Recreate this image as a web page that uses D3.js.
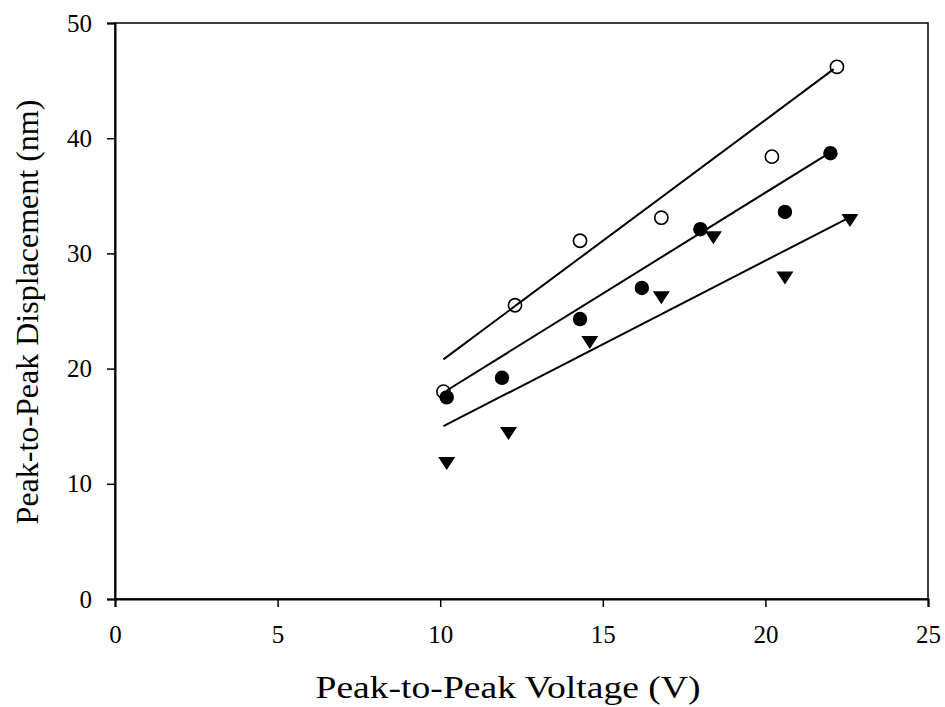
<!DOCTYPE html>
<html lang="en">
<head>
<meta charset="UTF-8">
<title>displacement vs voltage</title>
<script src="https://d3js.org/d3.v7.min.js"></script>
<style>
  body { margin: 0; background: #fff; }
  text { font-family: "Liberation Serif", "Times New Roman", serif; fill: #000; }
</style>
</head>
<body>
<svg width="945" height="707"></svg>
<script>
// data
var xTicks = [0, 5, 10, 15, 20, 25];
var yTicks = [0, 10, 20, 30, 40, 50];

// open circles
var openX = [10.1, 12.3, 14.3, 16.8, 20.2, 22.2];
var openY = [18.0, 25.5, 31.1, 33.1, 38.4, 46.2];
// filled circles
var fillX = [10.2, 11.9, 14.3, 16.2, 18.0, 20.6, 22.0];
var fillY = [17.5, 19.2, 24.3, 27.0, 32.1, 33.6, 38.7];
// triangles
var triX = [10.2, 12.1, 14.6, 16.8, 18.4, 20.6, 22.6];
var triY = [11.8, 14.4, 22.3, 26.2, 31.4, 27.9, 32.9];

// fitted lines (end points)
var fitOpen = [[10.1, 20.8], [22.1, 46.0]];
var fitFill = [[10.2, 18.1], [21.9, 38.6]];
var fitTri = [[10.1, 15.0], [22.5, 33.0]];

var margin = {top: 23, right: 17, bottom: 108, left: 115};
var svg = d3.select('svg');
var width = +svg.attr('width') - margin.left - margin.right;
var height = +svg.attr('height') - margin.top - margin.bottom;

var g = svg.append('g').attr('transform', 'translate(' + margin.left + ',' + margin.top + ')');

var x = d3.scaleLinear().domain([0, 25]).range([0, width]);
var y = d3.scaleLinear().domain([0, 50]).range([height, 0]);

// frame
g.append('rect')
    .attr('width', width)
    .attr('height', height)
    .attr('fill', 'none')
    .attr('stroke', '#000')
    .attr('stroke-width', 1.5);

var xAxis = g.append('g')
    .attr('transform', 'translate(0,' + height + ')')
    .call(d3.axisBottom(x).tickValues(xTicks).tickSize(8).tickPadding(18).tickFormat(d3.format('d')));
var yAxis = g.append('g')
    .call(d3.axisLeft(y).tickValues(yTicks).tickSize(8).tickPadding(15).tickFormat(d3.format('d')));

[xAxis, yAxis].forEach(function(a) {
    a.select('.domain').attr('stroke-width', 2);
    a.selectAll('.tick line').attr('stroke-width', 1.5);
    a.selectAll('.tick text').attr('font-size', 25).attr('font-family', '"Liberation Serif", serif');
});

// fit lines
var line = d3.line().x(d => x(d[0])).y(d => y(d[1]));
g.selectAll('path.fit')
    .data([fitOpen, fitFill, fitTri])
    .join('path')
    .attr('class', 'fit')
    .attr('d', line)
    .attr('fill', 'none')
    .attr('stroke', '#000')
    .attr('stroke-width', 2);

// markers
g.append('g').selectAll('path')
    .data(triX.map((v, i) => [v, triY[i]]))
    .join('path')
    .attr('transform', d => 'translate(' + x(d[0]) + ',' + y(d[1]) + ')')
    .attr('d', 'M-8.5,-6L8.5,-6L0,7Z')
    .attr('fill', '#000');

g.append('g').selectAll('circle')
    .data(fillX.map((v, i) => [v, fillY[i]]))
    .join('circle')
    .attr('cx', d => x(d[0]))
    .attr('cy', d => y(d[1]))
    .attr('r', 7.2)
    .attr('fill', '#000');

g.append('g').selectAll('circle')
    .data(openX.map((v, i) => [v, openY[i]]))
    .join('circle')
    .attr('cx', d => x(d[0]))
    .attr('cy', d => y(d[1]))
    .attr('r', 6.6)
    .attr('fill', 'none')
    .attr('stroke', '#000')
    .attr('stroke-width', 1.6);

// axis titles
svg.append('text')
    .attr('x', 508)
    .attr('y', 698)
    .attr('text-anchor', 'middle')
    .attr('font-size', 32)
    .attr('textLength', 385)
    .attr('lengthAdjust', 'spacingAndGlyphs')
    .text('Peak-to-Peak Voltage (V)');

svg.append('text')
    .attr('transform', 'translate(38,312) rotate(-90)')
    .attr('text-anchor', 'middle')
    .attr('font-size', 32)
    .text('Peak-to-Peak Displacement (nm)');
</script>
</body>
</html>
